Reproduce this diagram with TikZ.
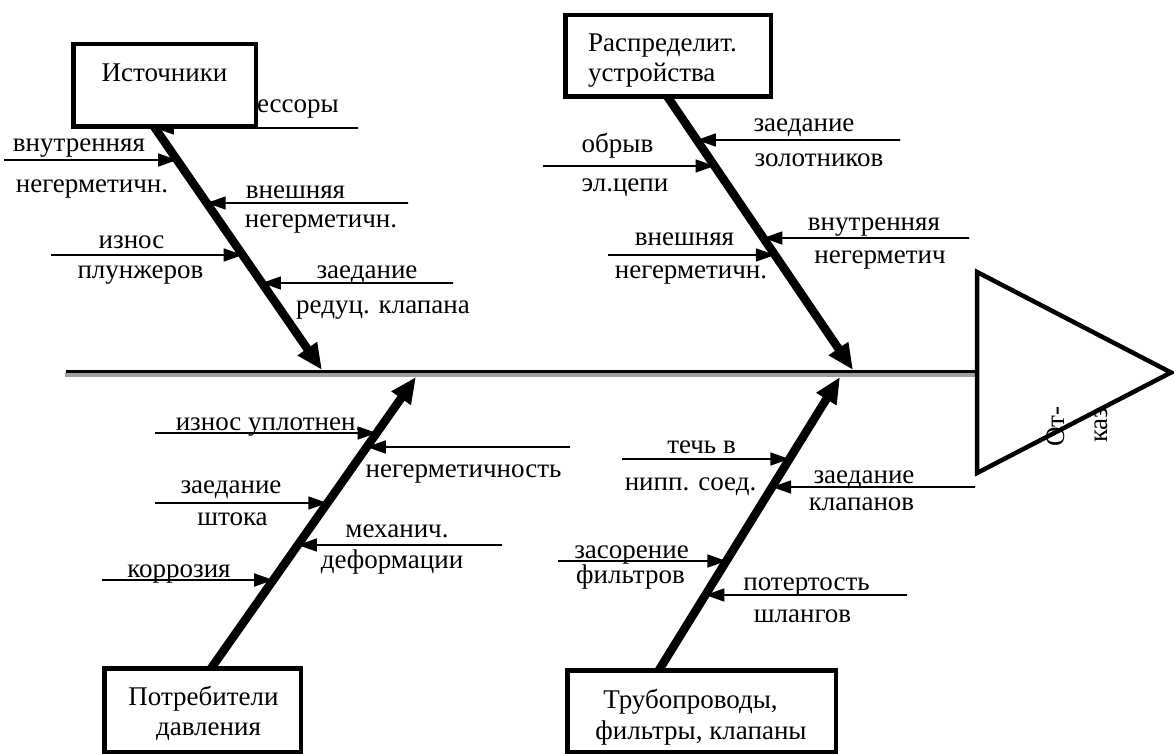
\documentclass[tikz,border=0pt]{standalone}
\usepackage{fontspec}
\setmainfont{Liberation Serif}
\newfontfamily\lbfam{Liberation Serif}
\usetikzlibrary{arrows.meta,calc}
\newcommand\lbfont{\lbfam\fontsize{27}{30}\selectfont}
% #1 bone name, #2 y of bone start, #3 y of bone end, #4 y of cause line, #5 x of free end
\newcommand\causeline[5]{%
  \coordinate (#1f#4) at (#5,#4);
  \coordinate (#1t#4) at ($(#1s)!{((#4)-(#2))/((#3)-(#2))}!(#1e)$);
  \draw[cause] (#1f#4) -- (#1t#4);
}
\begin{document}
\begin{tikzpicture}[x=1pt,y=-1pt,
  bone/.style={line width=8.5pt,-{Triangle[length=26pt,width=22pt]}},
  cause/.style={line width=1.6pt,-{Triangle[length=19pt,width=13pt]}},
  box/.style={draw,line width=4.5pt,fill=white,inner sep=0pt,rectangle},
  lbl/.style={font=\lbfont,inner sep=0pt,anchor=base},
  spineblack/.style={line width=3.5pt,black},
  spinegray/.style={line width=3.5pt,black!38},
  headtri/.style={line width=4.5pt,line join=miter}]
\path[fill=white,use as bounding box] (0,0) rectangle (1174,754);

% bones (start inside the boxes, end at the spine)
\coordinate (As) at (146,115);   \coordinate (Ae) at (322,370);
\coordinate (Bs) at (659.5,85);  \coordinate (Be) at (853,370);
\coordinate (Cs) at (202.9,680); \coordinate (Ce) at (416,377);
\coordinate (Ds) at (651,683);   \coordinate (De) at (840,377);

% spine and head
\coordinate (tail) at (66,371.5);
\coordinate (head) at (977,371.5);
\coordinate (gtail) at (65,375);
\coordinate (ghead) at (975,375);
\draw[spinegray] (gtail) -- (ghead);
\draw[spineblack] (tail) -- (head);
\draw[headtri] (977,272) -- (1171,372.5) -- (977,473) -- cycle;

% cause arrows
\causeline{A}{115}{370}{128}{358}
\causeline{A}{115}{370}{160}{4}
\causeline{A}{115}{370}{203}{408}
\causeline{A}{115}{370}{255}{51}
\causeline{A}{115}{370}{283}{453}
\causeline{B}{85}{370}{140}{900}
\causeline{B}{85}{370}{166}{543}
\causeline{B}{85}{370}{238}{969}
\causeline{B}{85}{370}{255}{608}
\causeline{C}{680}{377}{433}{155}
\causeline{C}{680}{377}{447}{570}
\causeline{C}{680}{377}{503}{155}
\causeline{C}{680}{377}{545}{502}
\causeline{C}{680}{377}{580}{102}
\causeline{D}{683}{377}{459}{622}
\causeline{D}{683}{377}{487}{975}
\causeline{D}{683}{377}{561}{558}
\causeline{D}{683}{377}{595}{907}

\draw[bone] (As) -- (Ae);
\draw[bone] (Bs) -- (Be);
\draw[bone] (Cs) -- (Ce);
\draw[bone] (Ds) -- (De);

% text partly hidden behind the first box
\node[lbl,anchor=base east] (tkomp) at (339,113) {компрессоры};

% boxes
\node[box,minimum width=182.5pt,minimum height=82.5pt] (box1) at (164.5,85.5) {};
\node[box,minimum width=205.5pt,minimum height=81.5pt] (box2) at (668,56) {};
\node[box,minimum width=196.5pt,minimum height=83.5pt] (box3) at (202.5,710) {};
\node[box,minimum width=268.5pt,minimum height=81.5pt] (box4) at (701.5,711) {};

% box texts
\node[lbl] (t1) at (164.5,82) {Источники};
\node[lbl,anchor=base west] (t2a) at (588,52) {Распределит.};
\node[lbl,anchor=base west] (t2b) at (588,82) {устройства};
\node[lbl] (t3a) at (203.5,705) {Потребители};
\node[lbl] (t3b) at (208.5,735) {давления};
\node[lbl] (t4a) at (690.5,708) {Трубопроводы,};
\node[lbl] (t4b) at (701,739) {фильтры, клапаны};

% bone A labels
\node[lbl] (a1) at (79,152) {внутренняя};
\node[lbl] (a2) at (92,193) {негерметичн.};
\node[lbl] (a3) at (295.5,198) {внешняя};
\node[lbl] (a4) at (321,227) {негерметичн.};
\node[lbl] (a5) at (131.5,248) {износ};
\node[lbl] (a6) at (140.5,278) {плунжеров};
\node[lbl] (a7) at (367,278) {заедание};
\node[lbl] (a8) at (383,313) {редуц. клапана};

% bone B labels
\node[lbl] (b1) at (804,132) {заедание};
\node[lbl] (b2) at (819,167) {золотников};
\node[lbl] (b3) at (617.5,153) {обрыв};
\node[lbl] (b4) at (625,192) {эл.цепи};
\node[lbl] (b5) at (874,230) {внутренняя};
\node[lbl] (b6) at (880,263) {негерметич};
\node[lbl] (b7) at (684.5,245) {внешняя};
\node[lbl] (b8) at (691,278) {негерметичн.};

% bone C labels
\node[lbl] (c1) at (269,430) {износ уплотнен.};
\node[lbl] (c2) at (463.5,477) {негерметичность};
\node[lbl] (c3) at (231,493) {заедание};
\node[lbl] (c4) at (232.5,525) {штока};
\node[lbl] (c5) at (397,537) {механич.};
\node[lbl] (c6) at (392,568) {деформации};
\node[lbl] (c7) at (179,577) {коррозия};

% bone D labels
\node[lbl] (d1) at (701.5,453) {течь в};
\node[lbl] (d2) at (690.5,490) {нипп. соед.};
\node[lbl] (d3) at (864,483) {заедание};
\node[lbl] (d4) at (861.5,510) {клапанов};
\node[lbl] (d5) at (631.5,558) {засорение};
\node[lbl] (d6) at (630.5,583) {фильтров};
\node[lbl] (d7) at (806.5,590) {потертость};
\node[lbl] (d8) at (802.5,622) {шлангов};

% head text
\node[lbl,anchor=base west,rotate=90] (h1) at (1064,447) {От-};
\node[lbl,anchor=base west,rotate=90] (h2) at (1107,443) {каз};
\end{tikzpicture}
\end{document}
